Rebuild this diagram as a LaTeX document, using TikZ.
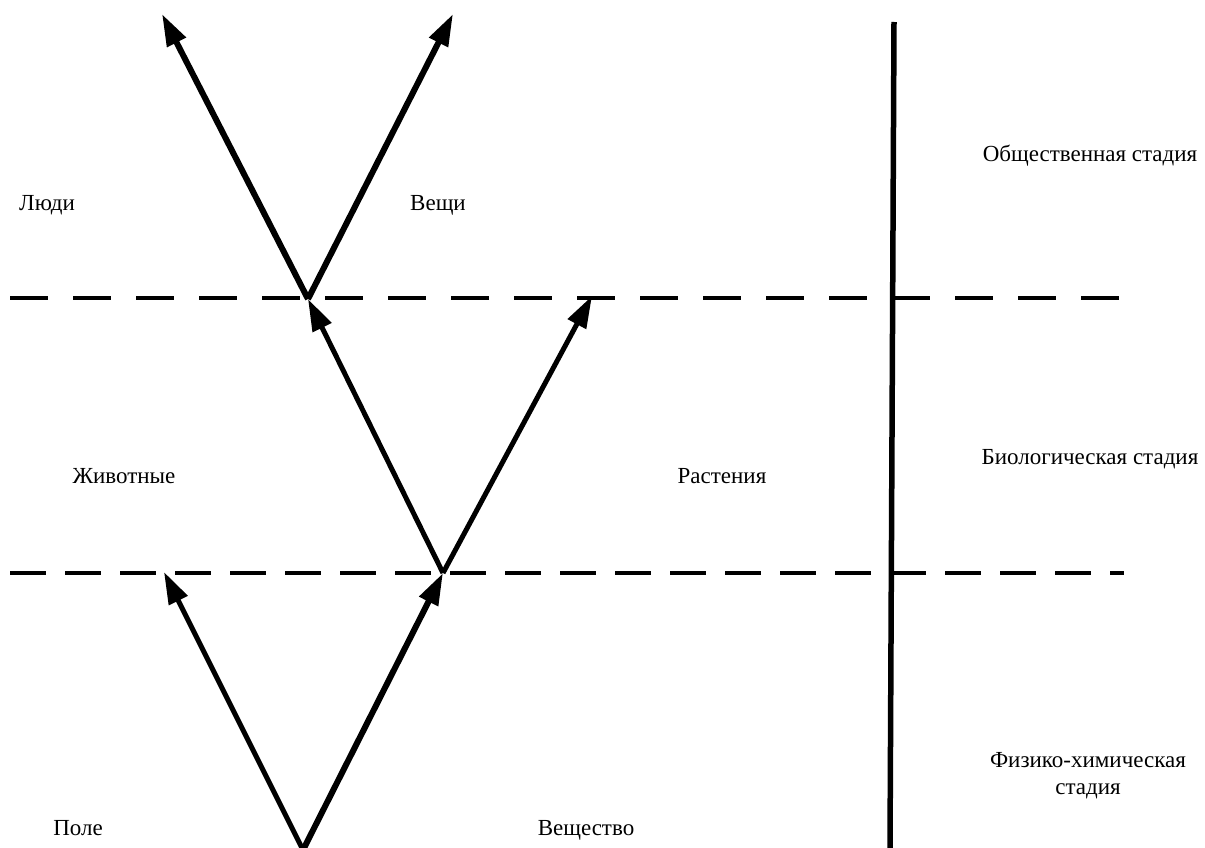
\documentclass[tikz,border=0pt]{standalone}
\usepackage{fontspec}
\setmainfont{Liberation Serif}
\usetikzlibrary{arrows.meta}
\begin{document}
\begin{tikzpicture}[x=1pt,y=-1pt,
  lbl/.style={font=\fontsize{23}{27}\selectfont, inner sep=0pt, align=center, anchor=base},
  evo/.style={line width=6pt, -{Triangle[length=32pt,width=20pt]}},
  evothin/.style={line width=5pt, -{Triangle[length=32pt,width=20pt]}},
  border/.style={line width=3.5pt},
  axis/.style={line width=5.5pt}]
\useasboundingbox (0,0) rectangle (1205,848);
% points
\coordinate (O) at (303,850);
\coordinate (A) at (164,572);
\coordinate (R) at (443,573);
\coordinate (H) at (308,299);
\coordinate (P) at (592,296);
\coordinate (L) at (162,14);
\coordinate (T) at (453,14);
\coordinate (d1a) at (10,298);
\coordinate (d1b) at (1122,298);
\coordinate (d2a) at (10,573);
\coordinate (d2b) at (1124,573);
\coordinate (vt) at (894,22);
\coordinate (vb) at (890,848);
% dashed boundaries
\draw[border, dash pattern=on 38pt off 25pt] (d1a) -- (d1b);
\draw[border, dash pattern=on 36pt off 19pt] (d2a) -- (d2b);
% vertical axis
\draw[axis] (vt) -- (vb);
% arrows
\draw[evothin] (O) -- (A);
\draw[evo] (O) -- (R);
\draw[evothin] (R) -- (H);
\draw[evothin] (R) -- (P);
\draw[evo] (H) -- (L);
\draw[evo] (H) -- (T);
% labels
\node[lbl] (ludi) at (47,210) {Люди};
\node[lbl] (veschi) at (438,210) {Вещи};
\node[lbl] (zhiv) at (124,483) {Животные};
\node[lbl] (rast) at (722,483) {Растения};
\node[lbl] (pole) at (78,835) {Поле};
\node[lbl] (vesch) at (586,835) {Вещество};
\node[lbl] (obsch) at (1090,161) {Общественная стадия};
\node[lbl] (bio) at (1090,464) {Биологическая стадия};
\node[lbl] (fiz) at (1088,767) {Физико-химическая};
\node[lbl] (fiz2) at (1088,794) {стадия};
\end{tikzpicture}
\end{document}
